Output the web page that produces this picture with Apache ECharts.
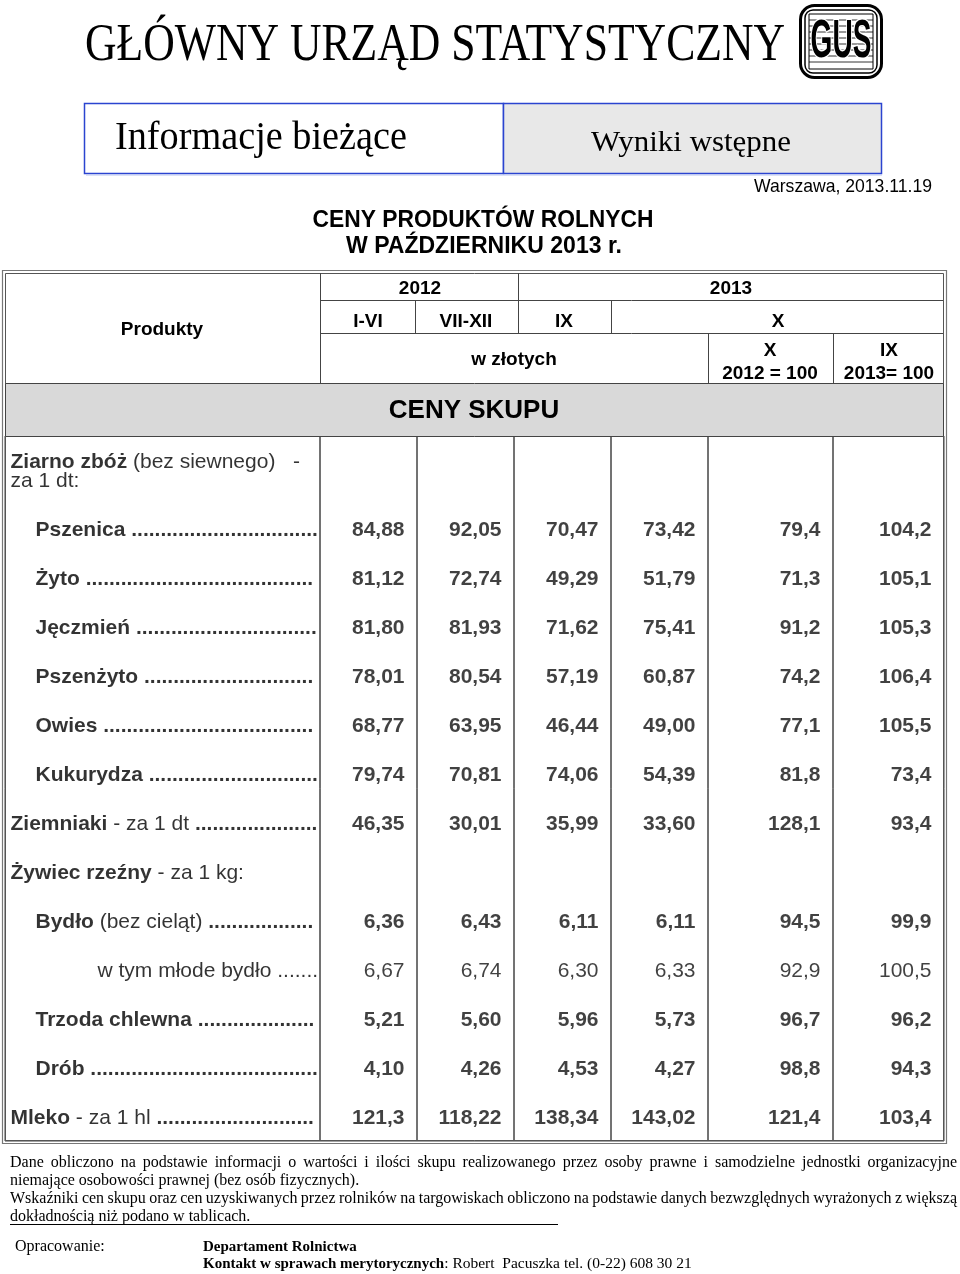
<!DOCTYPE html>
<html><head><meta charset="utf-8">
<script src="https://cdn.jsdelivr.net/npm/echarts/dist/echarts.min.js"></script>
<style>html,body{margin:0;padding:0;background:#fff}#c{width:960px;height:1274px}</style>
</head><body><div id="c"></div>
<script>
// ---------------- DATA ----------------
const columnHeaders = ['I-VI 2012', 'VII-XII 2012', 'IX 2013', 'X 2013', 'X 2013 (X 2012 = 100)', 'X 2013 (IX 2013 = 100)'];
const groupHeader = [['bd', 'Ziarno zbóż'], ['rg', ' (bez siewnego)']];
const groupHeaderLine2 = 'za 1 dt:';
const productLabels = [
  [['bd', 'Pszenica']],
  [['bd', 'Żyto']],
  [['bd', 'Jęczmień']],
  [['bd', 'Pszenżyto']],
  [['bd', 'Owies']],
  [['bd', 'Kukurydza']],
  [['bd', 'Ziemniaki'], ['rg', ' - za 1 dt']],
  [['bd', 'Żywiec rzeźny'], ['rg', ' - za 1 kg:']],
  [['bd', 'Bydło'], ['rg', ' (bez cieląt)']],
  [['rg', 'w tym młode bydło']],
  [['bd', 'Trzoda chlewna']],
  [['bd', 'Drób']],
  [['bd', 'Mleko'], ['rg', ' - za 1 hl']]
];
const vI_VI_2012    = ['84,88','81,12','81,80','78,01','68,77','79,74','46,35',null,'6,36','6,67','5,21','4,10','121,3'];
const vVII_XII_2012 = ['92,05','72,74','81,93','80,54','63,95','70,81','30,01',null,'6,43','6,74','5,60','4,26','118,22'];
const vIX_2013      = ['70,47','49,29','71,62','57,19','46,44','74,06','35,99',null,'6,11','6,30','5,96','4,53','138,34'];
const vX_2013       = ['73,42','51,79','75,41','60,87','49,00','54,39','33,60',null,'6,11','6,33','5,73','4,27','143,02'];
const idxX2012      = ['79,4','71,3','91,2','74,2','77,1','81,8','128,1',null,'94,5','92,9','96,7','98,8','121,4'];
const idxIX2013     = ['104,2','105,1','105,3','106,4','105,5','73,4','93,4',null,'99,9','100,5','96,2','94,3','103,4'];

// ---------------- LAYOUT / STYLE ----------------
const SANS = '"Liberation Sans", Arial, Helvetica, sans-serif';
const SERIF = '"Liberation Serif", "Times New Roman", serif';
const rowIndent = [35,35,35,35,35,35,10,10,35,97,35,35,10];
const rowDots   = ['bd','bd','bd','bd','bd','bd','bd',null,'bd','rg','bd','bd','bd'];
const rowWeight = ['bold','bold','bold','bold','bold','bold','bold','bold','bold','normal','bold','bold','bold'];
const colEdges = [5, 320, 417, 514, 611, 708, 833, 944];
const DATA_TOP = 436, DATA_BOTTOM = 1141;
const Y_MIN = -1.9, Y_MAX = 12.5;
const DOT_END = 318;
const LINE = '#444';
const DY = 2;

const mctx = document.createElement('canvas').getContext('2d');
function tw(t, font) { mctx.font = font; return mctx.measureText(t).width; }
function fontOf(st) { return (st === 'bd' ? 'bold ' : '') + '21px ' + SANS; }

function rowLabelText(i) {
  const parts = productLabels[i];
  let s = '', w = 0;
  parts.forEach(([st, t]) => { s += '{' + st + '|' + t + '}'; w += tw(t, fontOf(st)); });
  const ds = rowDots[i];
  if (ds) {
    w += tw(' ', fontOf(ds));
    const n = Math.max(0, Math.floor((DOT_END - rowIndent[i] - w) / tw('.', fontOf(ds))));
    s += '{' + ds + '| ' + '.'.repeat(n) + '}';
  }
  return s;
}
function groupLabelText() {
  let s = '', w = 0;
  groupHeader.forEach(([st, t]) => { s += '{' + st + '|' + t + '}'; w += tw(t, fontOf(st)); });
  const n = Math.max(1, Math.round((295 - 10 - w) / tw(' ', fontOf('rg'))));
  s += '{rg|' + ' '.repeat(n) + '-}\n{rg|' + groupHeaderLine2 + '}';
  return s;
}

const valueCols = [vI_VI_2012, vVII_XII_2012, vIX_2013, vX_2013, idxX2012, idxIX2013];

// ---------------- GRIDS / AXES / SERIES ----------------
const grids = [], xAxes = [], yAxes = [], series = [];
for (let k = 0; k < 7; k++) {
  grids.push({ left: colEdges[k], top: DATA_TOP, width: colEdges[k + 1] - colEdges[k], height: DATA_BOTTOM - DATA_TOP,
    show: true, borderColor: LINE, borderWidth: 1, backgroundColor: 'transparent', containLabel: false, outerBoundsMode: 'none' });
  xAxes.push({ type: 'value', gridIndex: k, min: 0, max: 1, show: false });
  yAxes.push({ type: 'value', gridIndex: k, min: Y_MIN, max: Y_MAX, inverse: true, show: false });
}
const richStyles = {
  bd: { fontWeight: 'bold', fontSize: 21, fontFamily: SANS, color: '#000', lineHeight: 19 },
  rg: { fontWeight: 'normal', fontSize: 21, fontFamily: SANS, color: '#000', lineHeight: 19 }
};
const labelData = productLabels.map((p, i) => ({
  value: [0, i],
  label: { position: 'right', distance: rowIndent[i] - 5, formatter: rowLabelText(i) }
}));
labelData.unshift({ value: [0, -1.2], label: { position: 'right', distance: 5, formatter: groupLabelText() } });
series.push({
  type: 'scatter', xAxisIndex: 0, yAxisIndex: 0, symbolSize: 1, silent: true,
  itemStyle: { color: 'rgba(0,0,0,0)' },
  label: { show: true, color: '#000', fontFamily: SANS, fontSize: 21, rich: richStyles, offset: [0, 1.5] },
  data: labelData
});
valueCols.forEach((col, c) => {
  const data = [];
  col.forEach((v, i) => {
    if (v === null) return;
    data.push({ name: v, value: [1, i], label: { fontWeight: rowWeight[i] } });
  });
  series.push({
    type: 'scatter', name: columnHeaders[c], xAxisIndex: c + 1, yAxisIndex: c + 1, symbolSize: 1, silent: true,
    itemStyle: { color: 'rgba(0,0,0,0)' },
    label: { show: true, position: 'left', distance: 12, offset: [0, 1.5], formatter: '{b}', color: '#111', fontFamily: SANS, fontSize: 21, fontWeight: 'bold' },
    data
  });
});

// ---------------- GRAPHIC (header, frame, footer) ----------------
const g = [];
function txt(x, y, str, font, align, extra) {
  return Object.assign({ type: 'text', x: x, y: y + DY, silent: true, z: 10,
    style: { x: 0, y: 0, text: str, font: font, fill: '#000', textAlign: align || 'center', align: align || 'center', textVerticalAlign: 'middle', verticalAlign: 'middle' } }, extra || {});
}
function fitTxt(x, y, str, font, width, align) {
  const s = width / tw(str, font);
  return txt(x, y, str, font, align, { scaleX: s });
}
function ln(x1, y1, x2, y2, stroke, lw) {
  return { type: 'line', silent: true, z: 5, shape: { x1, y1, x2, y2 }, style: { stroke: stroke || LINE, lineWidth: lw || 1 } };
}
function rect(x, y, w, h, fill, stroke, lw, r) {
  return { type: 'rect', silent: true, z: 1, shape: { x, y, width: w, height: h, r: r || 0 }, style: { fill: fill || 'none', stroke: stroke || 'none', lineWidth: lw || 1 } };
}

// Title
g.push(fitTxt(85, 44, 'GŁÓWNY URZĄD STATYSTYCZNY', '52px ' + SERIF, 700, 'left'));
// Logo
const logo = { type: 'group', x: 799, y: 4, children: [
  rect(1.5, 1.5, 81, 72, '#fff', '#000', 3, 14),
  rect(6, 6, 72, 63, 'none', '#000', 1.5, 8),
  rect(10, 10, 64, 55, 'none', '#000', 1)
] };
for (let yy = 16; yy < 64; yy += 6) logo.children.push(ln(10, yy, 74, yy, '#000', 0.8));
logo.children.push({ type: 'text', x: 42, y: 38, scaleX: 0.52, silent: true, z: 12, style: { x: 0, y: 0, text: 'GUS', font: 'bold 54px ' + SANS, fill: '#000', stroke: '#fff', lineWidth: 3, align: 'center', textAlign: 'center', verticalAlign: 'middle', textVerticalAlign: 'middle' } });
g.push(logo);

// Blue box
g.push(rect(84.5, 103.5, 419, 70, '#fff', '#2b44d0', 1.5));
g.push(rect(503.5, 103.5, 378, 70, '#e8e8e8', '#2b44d0', 1.5));
g.push(ln(86, 175, 882, 175, '#b8c4f0', 1));
g.push(fitTxt(115, 137, 'Informacje bieżące', '39px ' + SERIF, 292, 'left'));
g.push(fitTxt(591, 141, 'Wyniki wstępne', '29px ' + SERIF, 200, 'left'));
g.push(fitTxt(932, 185, 'Warszawa, 2013.11.19', '19px ' + SANS, 178, 'right'));

// Subtitle
g.push(fitTxt(483, 219, 'CENY PRODUKTÓW ROLNYCH', 'bold 23px ' + SANS, 341, 'center'));
g.push(fitTxt(484, 245, 'W PAŹDZIERNIKU 2013 r.', 'bold 23px ' + SANS, 276, 'center'));

// Table frame (double border)
g.push(rect(2.5, 270.5, 944, 873, 'none', '#777', 1.2));
g.push(rect(5.5, 273.5, 938, 867, 'none', '#555', 1));
// Gray band
g.push(rect(5.5, 383.5, 938, 53, '#d9d9d9', LINE, 1));
// Header lines
g.push(ln(320, 300.5, 943, 300.5));
g.push(ln(320, 333.5, 943, 333.5));
g.push(ln(320.5, 273, 320.5, 383));
g.push(ln(415.5, 300, 415.5, 333));
g.push(ln(518.5, 273, 518.5, 333));
g.push(ln(611.5, 300, 611.5, 333));
g.push(ln(708.5, 333, 708.5, 383));
g.push(ln(833.5, 333, 833.5, 383));
// Header texts
const HF = 'bold 19px ' + SANS;
g.push(txt(162, 328, 'Produkty', HF));
g.push(txt(420, 287, '2012', HF));
g.push(txt(731, 287, '2013', HF));
g.push(txt(368, 320, 'I-VI', HF));
g.push(txt(466, 320, 'VII-XII', HF));
g.push(txt(564, 320, 'IX', HF));
g.push(txt(778, 320, 'X', HF));
g.push(txt(514, 358, 'w złotych', HF));
g.push(txt(770, 349, 'X', HF));
g.push(txt(770, 372, '2012 = 100', HF));
g.push(txt(889, 349, 'IX', HF));
g.push(txt(889, 372, '2013= 100', HF));
g.push(txt(474, 409, 'CENY SKUPU', 'bold 26px ' + SANS));

// Footer
const FF = '16px ' + SERIF;
const FB = 'bold 15px ' + SERIF;
function justified(str, x0, x1, y, font) {
  const words = str.split(' ');
  const ws = words.map(w => tw(w, font));
  const sum = ws.reduce((a, b) => a + b, 0);
  const gap = (x1 - x0 - sum) / (words.length - 1);
  let x = x0;
  words.forEach((w, i) => { g.push(txt(x, y, w, font, 'left')); x += ws[i] + gap; });
}
justified('Dane obliczono na podstawie informacji o wartości i ilości skupu realizowanego przez osoby prawne i samodzielne jednostki organizacyjne', 10, 957, 1161, FF);
g.push(txt(10, 1179, 'niemające osobowości prawnej (bez osób fizycznych).', FF, 'left'));
justified('Wskaźniki cen skupu oraz cen uzyskiwanych przez rolników na targowiskach obliczono na podstawie danych bezwzględnych wyrażonych z większą', 10, 957, 1197, FF);
g.push(txt(10, 1215, 'dokładnością niż podano w tablicach.', FF, 'left'));
g.push(ln(10, 1224.5, 558, 1224.5, '#000', 1));
g.push(txt(15, 1245, 'Opracowanie:', FF, 'left'));
g.push(txt(203, 1245, 'Departament Rolnictwa', FB, 'left'));
g.push({ type: 'text', x: 203, y: 1262 + DY, silent: true, z: 10, style: {
  x: 0, y: 0, text: '{b|Kontakt w sprawach merytorycznych}{r|: Robert  Pacuszka tel. (0-22) 608 30 21}',
  font: FF, fill: '#000', align: 'left', textAlign: 'left', verticalAlign: 'middle', textVerticalAlign: 'middle',
  rich: { b: { fontWeight: 'bold', fontSize: 15, fontFamily: SERIF, fill: '#000', color: '#000' }, r: { fontSize: 15.5, fontFamily: SERIF, fill: '#000', color: '#000' } }
} });

const chart = echarts.init(document.getElementById('c'), null, { renderer: 'canvas', width: 960, height: 1274 });
chart.setOption({
  animation: false,
  backgroundColor: '#fff',
  grid: grids, xAxis: xAxes, yAxis: yAxes, series: series,
  graphic: { elements: g }
});
</script>
</body></html>
